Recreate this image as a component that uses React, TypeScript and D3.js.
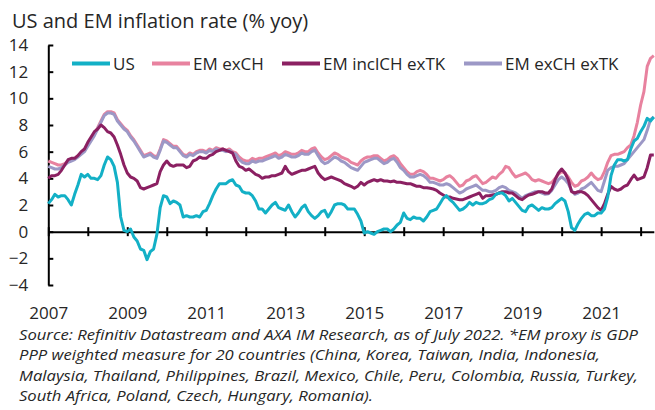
import * as d3 from 'd3';
import { useEffect, useRef } from 'react';

// monthly, Jan 2007 .. May 2022
const startYear = 2007;
const yearTicks = d3.range(2007, 2023);
const yTicks = [-4, -2, 0, 2, 4, 6, 8, 10, 12, 14];

const us = [
  2.1, 2.4, 2.8, 2.6, 2.7, 2.7, 2.4, 2.0, 2.8, 3.5, 4.3, 4.1,
  4.3, 4.0, 4.0, 3.9, 4.2, 5.0, 5.6, 5.4, 4.9, 3.7, 1.1, 0.1,
  0.0, 0.2, -0.4, -0.7, -1.3, -1.4, -2.1, -1.5, -1.3, -0.2, 1.8, 2.7,
  2.6, 2.1, 2.3, 2.2, 2.0, 1.1, 1.2, 1.1, 1.1, 1.2, 1.1, 1.5,
  1.6, 2.1, 2.7, 3.2, 3.6, 3.6, 3.6, 3.8, 3.9, 3.5, 3.4, 3.0,
  2.9, 2.9, 2.7, 2.3, 1.7, 1.7, 1.4, 1.7, 2.0, 2.2, 1.8, 1.7,
  1.6, 2.0, 1.5, 1.1, 1.4, 1.8, 2.0, 1.5, 1.2, 1.0, 1.2, 1.5,
  1.6, 1.1, 1.5, 2.0, 2.1, 2.1, 2.0, 1.7, 1.7, 1.7, 1.3, 0.8,
  -0.1, 0.0, -0.1, -0.2, 0.0, 0.1, 0.2, 0.2, 0.0, 0.2, 0.5, 0.7,
  1.4, 1.0, 0.9, 1.1, 1.0, 1.0, 0.8, 1.1, 1.5, 1.6, 1.7, 2.1,
  2.5, 2.7, 2.4, 2.2, 1.9, 1.6, 1.7, 1.9, 2.2, 2.0, 2.2, 2.1,
  2.1, 2.2, 2.4, 2.5, 2.8, 2.9, 2.9, 2.7, 2.3, 2.5, 2.2, 1.9,
  1.6, 1.5, 1.9, 2.0, 1.8, 1.6, 1.8, 1.7, 1.7, 1.8, 2.1, 2.3,
  2.5, 2.3, 1.5, 0.3, 0.1, 0.6, 1.0, 1.3, 1.4, 1.2, 1.2, 1.4,
  1.4, 1.7, 2.6, 4.2, 5.0, 5.4, 5.4, 5.3, 5.4, 6.2, 6.8, 7.0,
  7.5, 7.9, 8.5, 8.3, 8.6,
];

const emExCh = [
  5.3, 5.2, 5.1, 5.0, 5.0, 5.1, 5.3, 5.4, 5.5, 5.7, 5.9, 6.1,
  6.5, 6.9, 7.3, 7.8, 8.3, 8.8, 9.0, 9.0, 8.9, 8.4, 8.1, 7.8,
  7.6, 7.2, 6.9, 6.5, 6.1, 5.7, 5.8, 5.9, 5.7, 5.6, 6.2, 6.9,
  6.8, 6.6, 6.4, 6.4, 6.1, 5.8, 5.7, 5.9, 5.8, 6.0, 6.1, 6.1,
  6.0, 6.2, 6.1, 6.3, 6.2, 6.2, 6.1, 6.2, 6.0, 5.9, 5.6, 5.4,
  5.3, 5.3, 5.5, 5.4, 5.5, 5.5, 5.6, 5.7, 5.8, 5.9, 5.7, 5.8,
  6.0, 5.9, 5.8, 5.8, 5.9, 6.1, 6.0, 6.0, 6.2, 6.3, 5.9, 5.6,
  5.4, 5.5, 5.7, 5.9, 5.8, 5.6, 5.5, 5.4, 5.2, 5.1, 5.0, 5.3,
  5.5, 5.6, 5.6, 5.7, 5.7, 5.5, 5.3, 5.4, 5.6, 5.7, 5.5, 5.1,
  4.8, 4.5, 4.3, 4.3, 4.5, 4.6, 4.5, 4.3, 4.0, 4.0, 3.9, 3.8,
  3.9, 4.1, 4.2, 4.0, 3.7, 3.4, 3.5, 3.8, 3.9, 4.1, 4.2, 3.9,
  3.6, 3.7, 3.9, 4.1, 4.0, 4.3, 4.5, 4.9, 4.8, 4.4, 4.1, 4.2,
  4.3, 4.4, 4.2, 3.9, 3.8, 3.9, 3.8, 3.7, 3.6, 3.7, 4.0, 4.3,
  4.5, 4.4, 4.1, 3.7, 3.4, 3.5, 3.8, 3.9, 4.1, 4.4, 4.1, 3.9,
  4.0, 4.5, 5.2, 5.7, 5.8, 5.8, 5.9, 6.0, 6.3, 6.5, 7.2, 8.2,
  9.5, 10.5, 12.4, 13.0, 13.2,
];

const emInclChExTk = [
  4.0, 4.2, 4.2, 4.3, 4.6, 5.0, 5.4, 5.5, 5.5, 5.7, 6.0, 6.2,
  6.7, 7.1, 7.5, 7.7, 8.0, 7.8, 7.5, 7.4, 7.1, 6.5, 5.8, 5.0,
  4.4, 4.1, 4.0, 3.8, 3.3, 3.2, 3.3, 3.4, 3.5, 3.6, 4.5, 5.0,
  5.3, 5.0, 4.9, 5.0, 5.0, 5.0, 4.8, 4.9, 5.3, 5.4, 5.6, 5.5,
  5.5, 5.7, 5.8, 6.0, 6.1, 6.2, 6.1, 6.0, 5.9, 5.3, 4.9, 4.8,
  4.6, 4.7, 4.5, 4.3, 4.2, 4.0, 4.1, 4.1, 4.2, 4.2, 4.3, 4.4,
  4.9, 4.5, 4.3, 4.4, 4.5, 4.6, 4.6, 4.7, 4.8, 4.9, 4.4, 4.1,
  3.9, 4.0, 4.1, 4.0, 3.9, 3.8, 3.6, 3.5, 3.4, 3.25, 3.4, 3.7,
  3.5, 3.7, 3.8, 3.9, 3.8, 3.9, 3.8, 3.8, 3.75, 3.8, 3.7, 3.7,
  3.65, 3.6, 3.6, 3.5, 3.4, 3.4, 3.3, 3.3, 3.25, 3.2, 3.1, 2.9,
  2.75, 2.6, 2.6, 2.5, 2.45, 2.4, 2.4, 2.5, 2.6, 2.7, 2.8, 2.9,
  2.5, 2.7, 2.7, 2.75, 2.8, 2.9, 3.0, 3.0, 2.9, 2.9, 2.7, 2.5,
  2.4, 2.6, 2.75, 2.8, 2.9, 3.0, 3.0, 2.9, 2.9, 3.2, 3.9, 4.4,
  4.7, 4.4, 3.9, 3.0, 2.9, 3.0, 3.0, 2.9, 2.7, 2.4, 2.1, 1.8,
  1.6, 2.1, 2.8, 3.4, 3.2, 3.1, 3.2, 3.4, 3.5, 3.9, 4.25, 3.9,
  4.0, 4.1, 4.8, 5.75, 5.75,
];

const emExChExTk = [
  4.9, 4.8, 4.7, 4.7, 4.8, 5.0, 5.2, 5.3, 5.4, 5.6, 5.8, 6.0,
  6.4, 6.8, 7.2, 7.7, 8.2, 8.7, 8.9, 8.9, 8.8, 8.3, 8.0, 7.7,
  7.5, 7.1, 6.8, 6.4, 6.0, 5.6, 5.7, 5.8, 5.6, 5.5, 6.1, 6.8,
  6.7, 6.5, 6.3, 6.3, 6.0, 5.7, 5.6, 5.8, 5.7, 5.9, 6.0, 6.0,
  5.9, 6.1, 6.0, 6.2, 6.1, 6.1, 6.0, 6.1, 5.9, 5.8, 5.4, 5.2,
  5.1, 5.1, 5.3, 5.2, 5.3, 5.3, 5.4, 5.5, 5.6, 5.7, 5.5, 5.6,
  5.8, 5.7, 5.6, 5.6, 5.7, 5.9, 5.8, 5.8, 6.0, 6.1, 5.7, 5.3,
  5.1, 5.2, 5.4, 5.6, 5.5, 5.3, 5.2, 5.0, 4.8, 4.7, 4.6, 4.9,
  5.2, 5.3, 5.4, 5.5, 5.5, 5.3, 5.1, 5.2, 5.4, 5.5, 5.2, 4.8,
  4.6, 4.3, 4.1, 4.1, 4.2, 4.3, 4.2, 4.0, 3.7, 3.7, 3.6, 3.5,
  3.5, 3.6, 3.5, 3.3, 3.1, 2.9, 3.0, 3.2, 3.3, 3.4, 3.5, 3.3,
  3.1, 3.1, 3.0, 3.0, 3.1, 3.3, 3.4, 3.3, 3.1, 3.0, 2.9, 2.7,
  2.5, 2.7, 2.8, 2.9, 3.0, 3.0, 2.9, 2.8, 2.85, 3.1, 3.5, 3.9,
  4.1, 3.9, 3.6, 3.1, 2.8, 2.9, 3.2, 3.3, 3.5, 3.7, 3.4, 3.1,
  3.0, 3.8, 4.6, 4.8, 4.9, 4.9, 5.0, 5.1, 5.4, 5.7, 6.0, 6.3,
  6.6, 6.9, 7.6, 8.4, 8.6,
];

const series = [
  { name: 'EM exCH', values: emExCh, color: '#e8829f' },
  { name: 'EM exCH exTK', values: emExChExTk, color: '#9c98c6' },
  { name: 'EM inclCH exTK', values: emInclChExTk, color: '#8b2062' },
  { name: 'US', values: us, color: '#13b0c6' },
];

const legendItems = [
  { name: 'US', color: '#13b0c6', x: 72 },
  { name: 'EM exCH', color: '#e8829f', x: 152 },
  { name: 'EM inclCH exTK', color: '#8b2062', x: 282 },
  { name: 'EM exCH exTK', color: '#9c98c6', x: 464 },
];

const sourceLines = [
  'Source: Refinitiv Datastream and AXA IM Research, as of July 2022. *EM proxy is GDP',
  'PPP weighted measure for 20 countries (China, Korea, Taiwan, India, Indonesia,',
  'Malaysia, Thailand, Philippines, Brazil, Mexico, Chile, Peru, Colombia, Russia, Turkey,',
  'South Africa, Poland, Czech, Hungary, Romania).',
];
// widths of the note lines as laid out in the original
const sourceWidths = [619, 581, 619, 354];

const width = 655;
const height = 410;
const font = '"Open Sans", "Noto Sans", sans-serif';

const x = d3.scaleLinear().domain([2007, 2022 + 4 / 12]).range([48.3, 653.8]);
const y = d3.scaleLinear().domain([-4, 14]).range([285, 45]);

const line = d3
  .line<number>()
  .x((_, i) => x(startYear + i / 12))
  .y((d) => y(d));

export default function App() {
  const yAxisRef = useRef<SVGGElement>(null);
  const xAxisRef = useRef<SVGGElement>(null);

  useEffect(() => {
    const ya = d3.select(yAxisRef.current!);
    ya.selectAll('*').remove();
    ya.call(d3.axisLeft(y).tickValues(yTicks).tickSizeInner(-5).tickSizeOuter(0).tickPadding(20));
    ya.select('.domain').attr('stroke', '#000').attr('stroke-width', 2);
    ya.selectAll('.tick line').attr('stroke', '#000').attr('stroke-width', 2);
    ya.selectAll('.tick text')
      .attr('font-family', font)
      .attr('font-size', 17)
      .attr('fill', '#262626');

    const xa = d3.select(xAxisRef.current!);
    xa.selectAll('*').remove();
    xa.call(
      d3
        .axisBottom(x)
        .tickValues(yearTicks)
        .tickSizeOuter(0)
        .tickFormat((d) => ((d as number) % 2 === 1 && (d as number) < 2022 ? String(d) : ''))
    );
    xa.select('.domain').attr('stroke', '#000').attr('stroke-width', 2);
    xa.selectAll('.tick line').attr('stroke', '#000').attr('stroke-width', 2).attr('y1', -4.5).attr('y2', 4.5);
    xa.selectAll('.tick text')
      .attr('font-family', font)
      .attr('font-size', 17)
      .attr('fill', '#262626')
      .attr('dy', 0)
      .attr('y', 319 - y(0));
    xa.selectAll('.domain').raise();
  }, []);

  return (
    <svg
      width={width}
      height={height}
      style={{ position: 'absolute', left: 0, top: 0, background: '#fff' }}
    >
      <text x={12} y={28} fontFamily={font} fontSize={20} fill="#262626">
        US and EM inflation rate (% yoy)
      </text>

      <g ref={yAxisRef} transform={`translate(${x(2007)},0)`} />
      <g ref={xAxisRef} transform={`translate(0,${y(0)})`} />

      {series.map((s) => (
        <path
          key={s.name}
          d={line(s.values) ?? ''}
          fill="none"
          stroke={s.color}
          strokeWidth={3}
          strokeLinejoin="round"
        />
      ))}

      {legendItems.map((l) => (
        <g key={l.name} transform={`translate(${l.x},63.5)`}>
          <line x1={0} x2={38} stroke={l.color} strokeWidth={4} />
          <text x={41} y={6} fontFamily={font} fontSize={17} fill="#262626">
            {l.name}
          </text>
        </g>
      ))}

      {sourceLines.map((t, i) => (
        <text
          key={i}
          x={19}
          y={340 + i * 20.3}
          fontFamily={font}
          fontSize={15}
          fontStyle="italic"
          fill="#262626"
          textLength={sourceWidths[i]}
          lengthAdjust="spacingAndGlyphs"
        >
          {t}
        </text>
      ))}
    </svg>
  );
}
